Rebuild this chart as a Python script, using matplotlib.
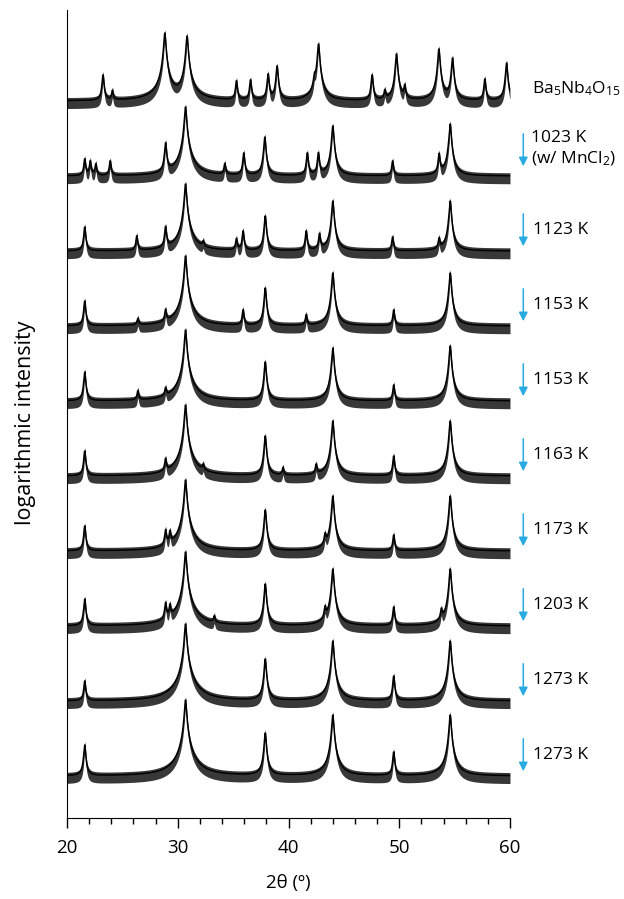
import numpy as np
import matplotlib.pyplot as plt

plt.rcParams['font.family'] = ['Open Sans', 'DejaVu Sans']
plt.rcParams['mathtext.fontset'] = 'custom'
plt.rcParams['mathtext.rm'] = 'Open Sans'

ba5nb4o15_pos = [23.25, 24.1, 28.83, 30.84, 35.3, 36.57, 38.16, 38.97, 42.35, 42.71, 47.55, 48.7, 49.75, 50.5, 53.58, 54.81, 57.73, 59.69]
ba5nb4o15_hts = [26, 10, 68, 65, 20, 21, 27, 35, 22, 57, 26, 10, 47, 15, 52, 43, 22, 38]

k1023_pos = [21.6, 22.1, 22.6, 23.9, 28.9, 30.7, 34.25, 35.96, 37.86, 41.7, 42.7, 44.0, 49.4, 53.6, 54.6]
k1023_hts = [17, 15, 12, 15, 33, 69, 12, 23, 39, 23, 23, 50, 15, 22, 52]

k1123_pos = [21.6, 26.3, 28.9, 30.7, 32.3, 35.3, 35.9, 37.9, 41.6, 42.8, 44.0, 49.4, 53.6, 54.6]
k1123_hts = [24, 15, 24, 67, 7, 12, 20, 35, 20, 17, 50, 14, 12, 50]

k1153a_pos = [21.6, 26.4, 28.9, 30.7, 35.9, 37.9, 41.6, 44.0, 49.5, 54.6]
k1153a_hts = [25, 7, 15, 70, 16, 38, 11, 53, 16, 53]

k1153b_pos = [21.6, 26.4, 28.9, 30.7, 37.9, 44.0, 49.5, 54.6]
k1153b_hts = [29, 10, 11, 71, 39, 53, 16, 55]

k1163_pos = [21.6, 28.9, 30.7, 32.3, 37.9, 39.5, 42.5, 44.0, 49.5, 54.6]
k1163_hts = [25, 16, 71, 8, 40, 8, 11, 55, 20, 55]

k1173_pos = [21.6, 28.9, 29.3, 30.7, 37.9, 43.3, 44.0, 49.5, 54.6]
k1173_hts = [25, 20, 18, 71, 41, 15, 55, 16, 55]

k1203_pos = [21.6, 28.9, 29.3, 30.7, 33.3, 37.9, 43.3, 44.0, 49.5, 53.8, 54.6]
k1203_hts = [27, 22, 19, 74, 8, 42, 17, 57, 19, 15, 57]

k1273a_pos = [21.6, 30.7, 37.9, 44.0, 49.5, 54.6]
k1273a_hts = [20, 77, 42, 60, 25, 60]

k1273b_pos = [21.6, 30.7, 37.9, 44.0, 49.5, 54.6]
k1273b_hts = [31, 76, 43, 61, 24, 61]

labels = ['$\\mathregular{Ba_5Nb_4O_{15}}$', '1023 K\n(w/ MnCl$\\mathregular{_2}$)', '1123 K', '1153 K', '1153 K',
          '1163 K', '1173 K', '1203 K', '1273 K', '1273 K']

patterns = [(ba5nb4o15_pos, ba5nb4o15_hts), (k1023_pos, k1023_hts), (k1123_pos, k1123_hts),
            (k1153a_pos, k1153a_hts), (k1153b_pos, k1153b_hts), (k1163_pos, k1163_hts),
            (k1173_pos, k1173_hts), (k1203_pos, k1203_hts), (k1273a_pos, k1273a_hts),
            (k1273b_pos, k1273b_hts)]

# lorentzian peaks summed in linear intensity, then shown on log scale
scale = 12.0
width = 0.075
tt = np.linspace(20, 60, 2401)

def log_pattern(pos, hts):
    inten = np.ones_like(tt)
    for p, h in zip(pos, hts):
        inten += (np.exp(h / scale) - 1) * width**2 / (width**2 + (tt - p)**2)
    return scale * np.log(inten)

spacing = 75
bottom = 42
arrow_color = '#29abe2'
label_size = 12.5

fig = plt.figure(figsize=(6.24, 8.99), dpi=100)
ax = fig.add_axes([0.1074, 0.0901, 0.7099, 0.8988])

for i, (pos, hts) in enumerate(patterns):
    off = bottom + (len(patterns) - 1 - i) * spacing
    y = log_pattern(pos, hts) + off
    # noise band around the pattern
    ax.fill_between(tt, y - 8, y + 3, color='black', alpha=0.78, lw=0)
    ax.plot(tt, y, color='black', lw=1.1)
    if i == 0:
        ax.text(62.0, off + 12, labels[i], fontsize=label_size, va='center', ha='left', clip_on=False)
    elif i == 1:
        ax.annotate('', xy=(61.2, off + 7), xytext=(61.2, off + 45),
                    arrowprops=dict(arrowstyle='-|>', color=arrow_color, lw=1.1, mutation_scale=13),
                    annotation_clip=False)
        ax.text(61.9, off + 27, labels[i], fontsize=label_size, va='center', ha='left', linespacing=1.2)
    else:
        ax.annotate('', xy=(61.2, off + 2), xytext=(61.2, off + 40),
                    arrowprops=dict(arrowstyle='-|>', color=arrow_color, lw=1.1, mutation_scale=13),
                    annotation_clip=False)
        ax.text(62.1, off + 21, labels[i], fontsize=label_size, va='center', ha='left')

ax.set_xlim(20, 60)
ax.set_ylim(0, 808)
ax.set_xticks([20, 30, 40, 50, 60])
ax.set_xticks(np.arange(20, 61, 2), minor=True)
ax.tick_params(axis='x', which='major', direction='out', length=7, width=1, labelsize=13.5, pad=8)
ax.tick_params(axis='x', which='minor', direction='out', length=4, width=1)
ax.set_yticks([])
ax.spines['top'].set_visible(False)
ax.spines['right'].set_visible(False)
ax.set_xlabel('2θ (º)', fontsize=13.5, labelpad=12)
ax.set_ylabel('logarithmic intensity', fontsize=15.5)
ax.yaxis.set_label_coords(-0.07, 0.489)

plt.savefig('out.png', dpi=100)
